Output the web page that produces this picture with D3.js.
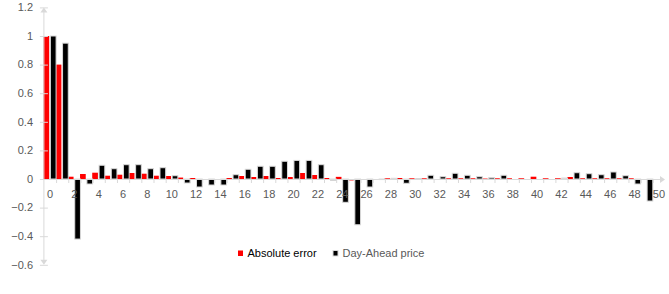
<!DOCTYPE html>
<html>
<head>
<meta charset="utf-8">
<script src="https://cdn.jsdelivr.net/npm/d3@7.9.0/dist/d3.min.js"></script>
<style>
  body { margin: 0; background: #fff; }
  svg { display: block; font-family: "Liberation Sans", Arial, sans-serif; }
</style>
</head>
<body>
<svg id="chart" width="669" height="294"></svg>
<script>
// lags 0..50
const lags = d3.range(0, 51);

const absoluteError = [
  1.0, 0.8, 0.016, 0.035, 0.044, 0.023, 0.03, 0.042, 0.037, 0.023,
  0.021, 0.01, 0.007, 0, 0, 0.007, 0.021, 0.014, 0.021, 0.007,
  0.014, 0.042, 0.028, 0.007, 0.015, -0.01, 0, 0, 0.005, 0.007,
  0.005, 0.005, -0.005, 0.005, 0.005, 0.005, 0.003, 0.005, 0.005, 0.005,
  0.016, 0.005, 0.005, 0.014, 0.005, 0.005, 0.005, 0.005, 0.005, -0.007,
  0
];

const dayAheadPrice = [
  1.0, 0.95, -0.42, -0.035, 0.096, 0.072, 0.1, 0.1, 0.072, 0.079,
  0.023, -0.028, -0.056, -0.042, -0.042, 0.03, 0.068, 0.089, 0.089, 0.124,
  0.13, 0.13, 0.1, -0.01, -0.163, -0.32, -0.056, -0.004, 0.005, -0.03,
  0.003, 0.026, 0.016, 0.04, 0.026, 0.016, 0.01, 0.026, 0, 0,
  0, 0, 0.007, 0.044, 0.037, 0.03, 0.049, 0.023, -0.035, -0.154,
  0
];

const yTicks = [-0.6, -0.4, -0.2, 0, 0.2, 0.4, 0.6, 0.8, 1, 1.2];
const xTickLabels = lags.filter(d => d % 2 === 0);

const seriesNames = ['Absolute error', 'Day-Ahead price'];
const seriesColors = ['#ff0000', '#000000'];
const seriesText = ['#000000', '#595959'];

const axisColor = '#d9d9d9';
const labelColor = '#595959';

let svg = d3.select('#chart');

let x = d3.scaleBand().domain(lags).range([43.9, 665]).paddingInner(0).paddingOuter(0);
let xSub = d3.scaleBand().domain([0, 1]).range([0, x.bandwidth()]).paddingInner(0.12);
let y = d3.scaleLinear().domain([-0.6, 1.2]).range([264.8, 7.4]);

let axisX = x.range()[0];
let zeroY = y(0);

// bars
let series = [absoluteError, dayAheadPrice];
series.forEach((values, s) => {
  svg.append('g')
    .selectAll('rect')
    .data(lags)
    .join('rect')
    .attr('x', d => x(d) + xSub(s) - (s === 0 ? 0.4 : 0))
    .attr('width', xSub.bandwidth())
    .attr('y', d => Math.min(y(values[d]), zeroY))
    .attr('height', d => Math.abs(y(values[d]) - zeroY))
    .attr('fill', seriesColors[s])
    .attr('stroke', s === 1 ? axisColor : 'none')
    .attr('stroke-width', 1);
});

// y axis
let yAxis = svg.append('g');
yAxis.append('line')
  .attr('x1', axisX).attr('x2', axisX)
  .attr('y1', y(1.2) + 2).attr('y2', y(-0.6) - 2)
  .attr('stroke', axisColor);
yAxis.selectAll('.tick')
  .data(yTicks)
  .join('line')
  .attr('x1', axisX - 4).attr('x2', axisX + 4)
  .attr('y1', d => y(d) + 0.5).attr('y2', d => y(d) + 0.5)
  .attr('stroke', axisColor);
yAxis.selectAll('text')
  .data(yTicks)
  .join('text')
  .attr('x', 33)
  .attr('y', d => y(d))
  .attr('dy', '0.35em')
  .attr('text-anchor', 'end')
  .attr('font-size', 11)
  .attr('fill', labelColor)
  .text(d => d3.format('')(+d.toFixed(1)));

// arrows (Excel style)
yAxis.append('path')
  .attr('d', `M${axisX - 3.5},${y(1.2) + 5} L${axisX},${y(1.2)} L${axisX + 3.5},${y(1.2) + 5} Z`)
  .attr('fill', axisColor);
yAxis.append('path')
  .attr('d', `M${axisX - 3.5},${y(-0.6) - 5} L${axisX},${y(-0.6)} L${axisX + 3.5},${y(-0.6) - 5} Z`)
  .attr('fill', axisColor);

// x axis
let xEnd = x.range()[1];
let xAxis = svg.append('g');
xAxis.append('line')
  .attr('x1', axisX).attr('x2', xEnd - 2)
  .attr('y1', zeroY + 0.5).attr('y2', zeroY + 0.5)
  .attr('stroke', axisColor);
xAxis.selectAll('.tick')
  .data(lags.slice(1))
  .join('line')
  .attr('x1', d => x(d) + 0.5).attr('x2', d => x(d) + 0.5)
  .attr('y1', zeroY).attr('y2', zeroY + 4)
  .attr('stroke', axisColor);
xAxis.append('path')
  .attr('d', `M${xEnd - 5},${zeroY - 3} L${xEnd},${zeroY + 0.5} L${xEnd - 5},${zeroY + 4} Z`)
  .attr('fill', axisColor);
xAxis.selectAll('text')
  .data(xTickLabels)
  .join('text')
  .attr('x', d => x(d) + x.bandwidth() / 2)
  .attr('y', 198)
  .attr('text-anchor', 'middle')
  .attr('font-size', 11)
  .attr('fill', labelColor)
  .text(d => d);

// legend
let legendX = [238, 333];
let legend = svg.append('g');
seriesNames.forEach((name, i) => {
  legend.append('rect')
    .attr('x', legendX[i])
    .attr('y', 250.5)
    .attr('width', 5)
    .attr('height', 5.5)
    .attr('fill', seriesColors[i])
    .attr('stroke', i === 1 ? axisColor : 'none');
  legend.append('text')
    .attr('x', legendX[i] + 9.5)
    .attr('y', 256.5)
    .attr('font-size', 11)
    .attr('fill', seriesText[i])
    .text(name);
});
</script>
</body>
</html>
